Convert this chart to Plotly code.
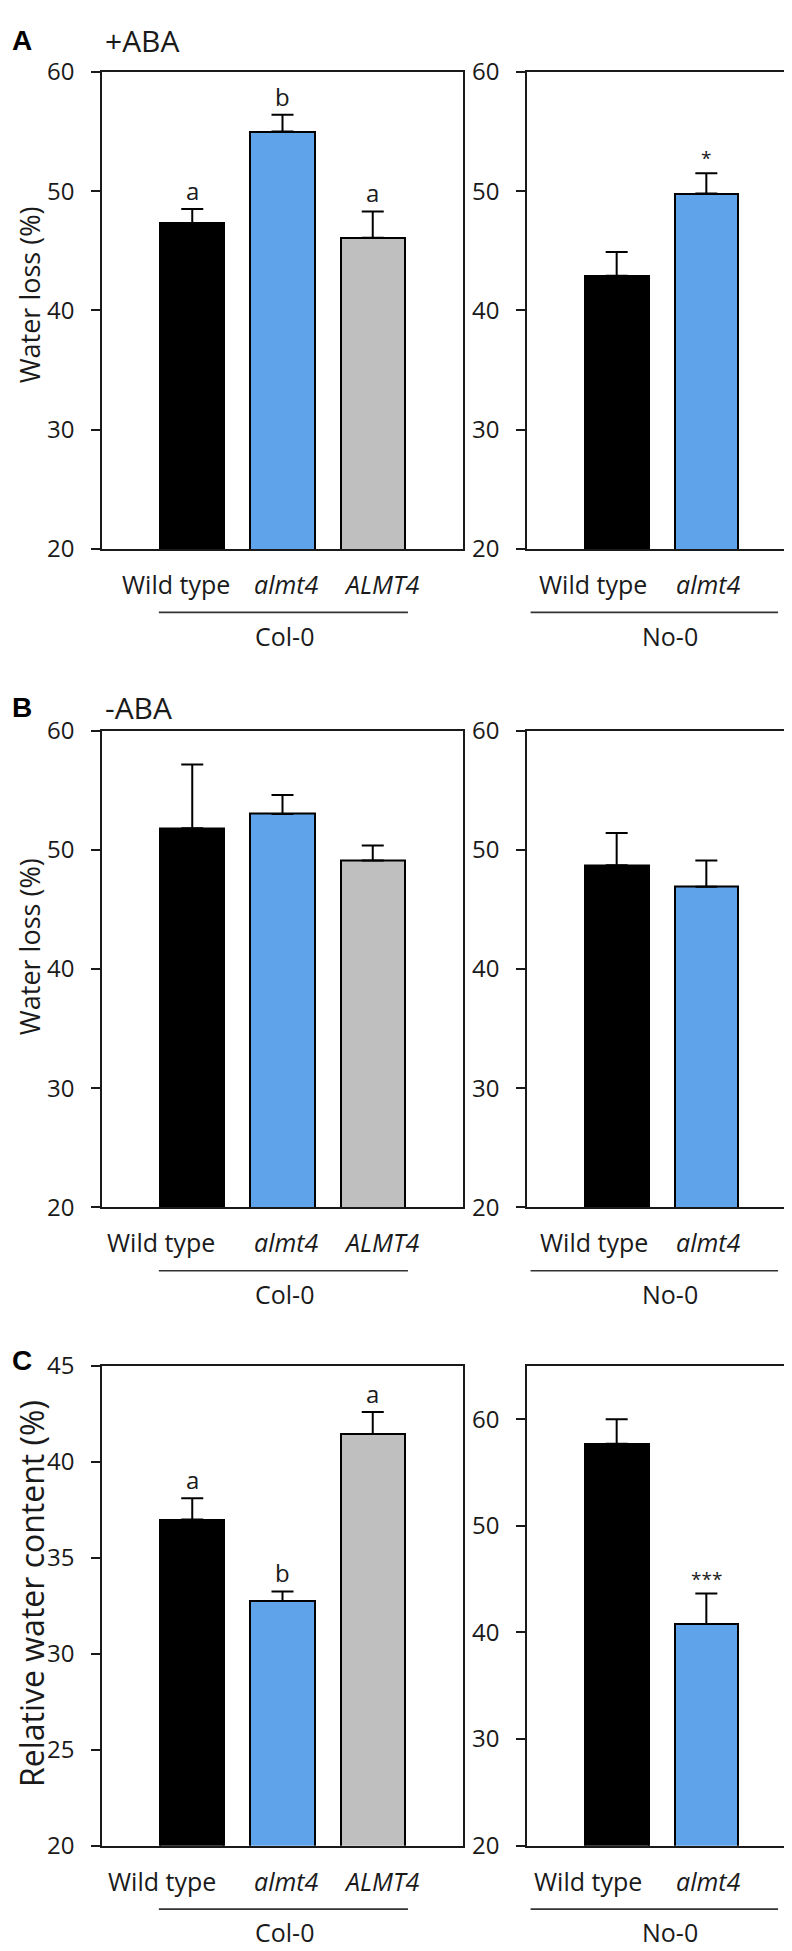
import plotly.graph_objects as go

# ---------------- data ----------------
col_categories = ["Wild type", "almt4", "ALMT4"]
no_categories = ["Wild type", "almt4"]
col_tick_text = ["Wild type", "<i>almt4</i>", "<i>ALMT4</i>"]
no_tick_text = ["Wild type", "<i>almt4</i>"]

# Panel A (+ABA) water loss (%)
a_col_mean = [47.3, 55.0, 46.1]
a_col_err = [1.2, 1.4, 2.2]
a_col_letters = ["a", "b", "a"]
a_no_mean = [42.9, 49.8]
a_no_err = [2.0, 1.7]
a_no_marks = ["", "*"]

# Panel B (-ABA) water loss (%)
b_col_mean = [51.8, 53.0, 49.1]
b_col_err = [5.35, 1.6, 1.25]
b_no_mean = [48.7, 46.9]
b_no_err = [2.7, 2.2]

# Panel C relative water content (%)
c_col_mean = [37.0, 32.75, 41.45]
c_col_err = [1.1, 0.5, 1.15]
c_col_letters = ["a", "b", "a"]
c_no_mean = [57.7, 40.8]
c_no_err = [2.3, 2.85]
c_no_marks = ["", "***"]

water_ticks = [20, 30, 40, 50, 60]
rwc_col_ticks = [20, 25, 30, 35, 40, 45]
rwc_no_ticks = [20, 30, 40, 50, 60]

group_names = ["Col-0", "No-0"]

# ---------------- style ----------------
W, H = 792, 1951
FONT = "Open Sans"
col_colors = ["#000000", "#5FA3EA", "#BFBFBF"]
no_colors = ["#000000", "#5FA3EA"]
AX = "#1a1a1a"

xL = [94 / W, 455 / W]
xR = [519 / W, 788 / W]
yA = [1 - 532 / H, 1 - 46.7 / H]
yB = [1 - 1201.7 / H, 1 - 716.7 / H]
yC = [1 - 1851 / H, 1 - 1363 / H]

col_label_shift = {"A": [-16, 3, 9], "B": [-31, 3, 9], "C": [-30, 3, 9]}
no_label_shift = {"A": [-24, 2], "B": [-23, 2], "C": [-29, 2]}

fig = go.Figure()

panels = [
    ("A", 1, 2, yA, a_col_mean, a_col_err, a_no_mean, a_no_err, [20, 60], water_ticks, [20, 60], water_ticks),
    ("B", 3, 4, yB, b_col_mean, b_col_err, b_no_mean, b_no_err, [20, 60], water_ticks, [20, 60], water_ticks),
    ("C", 5, 6, yC, c_col_mean, c_col_err, c_no_mean, c_no_err, [20, 45], rwc_col_ticks, [20, 65], rwc_no_ticks),
]

annotations = []
shapes = []

def axname(i, kind):
    return kind if i == 1 else f"{kind}{i}"

for (pname, li, ri, ydom, cm, ce, nm, ne, yrl, ytl, yrr, ytr) in panels:
    for idx, cats, means, errs, colors, xdom, yr, yt in [
        (li, col_categories, cm, ce, col_colors, xL, yrl, ytl),
        (ri, no_categories, nm, ne, no_colors, xR, yrr, ytr),
    ]:
        xs = list(range(1, len(cats) + 1))
        fig.add_trace(go.Bar(
            x=xs, y=means, width=0.71,
            marker=dict(color=colors, line=dict(color="#000000", width=2)),
            error_y=dict(type="data", symmetric=False, array=errs,
                         arrayminus=[0] * len(errs), color="#000000",
                         thickness=2, width=11),
            xaxis=axname(idx, "x"), yaxis=axname(idx, "y"),
            showlegend=False, hoverinfo="skip",
        ))
        xk = "xaxis" if idx == 1 else f"xaxis{idx}"
        yk = "yaxis" if idx == 1 else f"yaxis{idx}"
        fig.layout[xk] = dict(
            domain=xdom, range=[0, len(cats) + 1], anchor=axname(idx, "y"),
            showticklabels=False, ticks="", showgrid=False, zeroline=False,
            showline=True, mirror=True, linecolor=AX, linewidth=1.6, fixedrange=True,
        )
        fig.layout[yk] = dict(
            domain=ydom, range=yr, anchor=axname(idx, "x"), tickvals=yt,
            ticks="outside", ticklen=9, tickwidth=1.6, tickcolor=AX,
            showgrid=False, zeroline=False, showline=True, mirror=True,
            linecolor=AX, linewidth=1.6, ticklabelstandoff=12,
            tickfont=dict(family=FONT, size=24, color="#1a1a1a"), fixedrange=True,
        )

    # category labels
    for idx, texts, shifts in [(li, col_tick_text, col_label_shift[pname]),
                               (ri, no_tick_text, no_label_shift[pname])]:
        for i, t in enumerate(texts):
            annotations.append(dict(
                x=i + 1, y=0, xref=axname(idx, "x"), yref=axname(idx, "y") + " domain",
                text=t, showarrow=False, xanchor="center", yanchor="middle",
                yshift=-35, xshift=shifts[i],
                font=dict(family=FONT, size=25, color="#1a1a1a"),
            ))

    # group lines and labels
    dom_h = (ydom[1] - ydom[0]) * H
    for idx, x0, x1, gx, gname in [(li, 0.63, 3.39, 2.02, group_names[0]),
                                   (ri, 0.04, 2.80, 1.6, group_names[1])]:
        shapes.append(dict(
            type="line", xref=axname(idx, "x"), yref=axname(idx, "y") + " domain",
            x0=x0, x1=x1, y0=-64.5 / dom_h, y1=-64.5 / dom_h,
            line=dict(color="#333333", width=1.6),
        ))
        annotations.append(dict(
            x=gx, y=-88 / dom_h, xref=axname(idx, "x"), yref=axname(idx, "y") + " domain",
            text=gname, showarrow=False, xanchor="center", yanchor="middle",
            font=dict(family=FONT, size=25, color="#1a1a1a"),
        ))

# significance letters / stars
for idx, means, errs, marks, size in [
    (1, a_col_mean, a_col_err, a_col_letters, 24),
    (2, a_no_mean, a_no_err, a_no_marks, 19),
    (5, c_col_mean, c_col_err, c_col_letters, 24),
    (6, c_no_mean, c_no_err, c_no_marks, 19),
]:
    for i, m in enumerate(marks):
        if not m:
            continue
        annotations.append(dict(
            x=i + 1, y=means[i] + errs[i], xref=axname(idx, "x"), yref=axname(idx, "y"),
            text=m, showarrow=False, xanchor="center", yanchor="bottom", yshift=0,
            font=dict(family=FONT, size=size, color="#1a1a1a"),
        ))

# y-axis titles
for text, yc, size, xc in [("Water loss (%)", 274, 27, 21), ("Water loss (%)", 937, 27, 21),
                           ("Relative water content (%)", 1595, 32, 23)]:
    annotations.append(dict(
        x=xc / W, y=1 - yc / H, xref="paper", yref="paper", text=text,
        textangle=-90, showarrow=False, xanchor="center", yanchor="middle",
        font=dict(family=FONT, size=size, color="#1a1a1a"),
    ))

# panel letters and treatment titles
for letter, yc, title in [("A", 15, "+ABA"), ("B", 693, "-ABA"), ("C", 1357, "")]:
    annotations.append(dict(
        x=2 / W, y=1 - yc / H, xref="paper", yref="paper", text=f"<b>{letter}</b>",
        showarrow=False, xanchor="left", yanchor="middle",
        font=dict(family="Liberation Sans", size=28, color="#000000"),
    ))
    if title:
        annotations.append(dict(
            x=95 / W, y=1 - yc / H, xref="paper", yref="paper", text=title,
            showarrow=False, xanchor="left", yanchor="middle",
            font=dict(family=FONT, size=30, color="#1a1a1a"),
        ))

fig.update_layout(
    width=W, height=H, margin=dict(l=0, r=0, t=0, b=0),
    paper_bgcolor="white", plot_bgcolor="white",
    annotations=annotations, shapes=shapes, bargap=0,
    font=dict(family=FONT, color="#1a1a1a"),
)

fig.write_html("out.html")
